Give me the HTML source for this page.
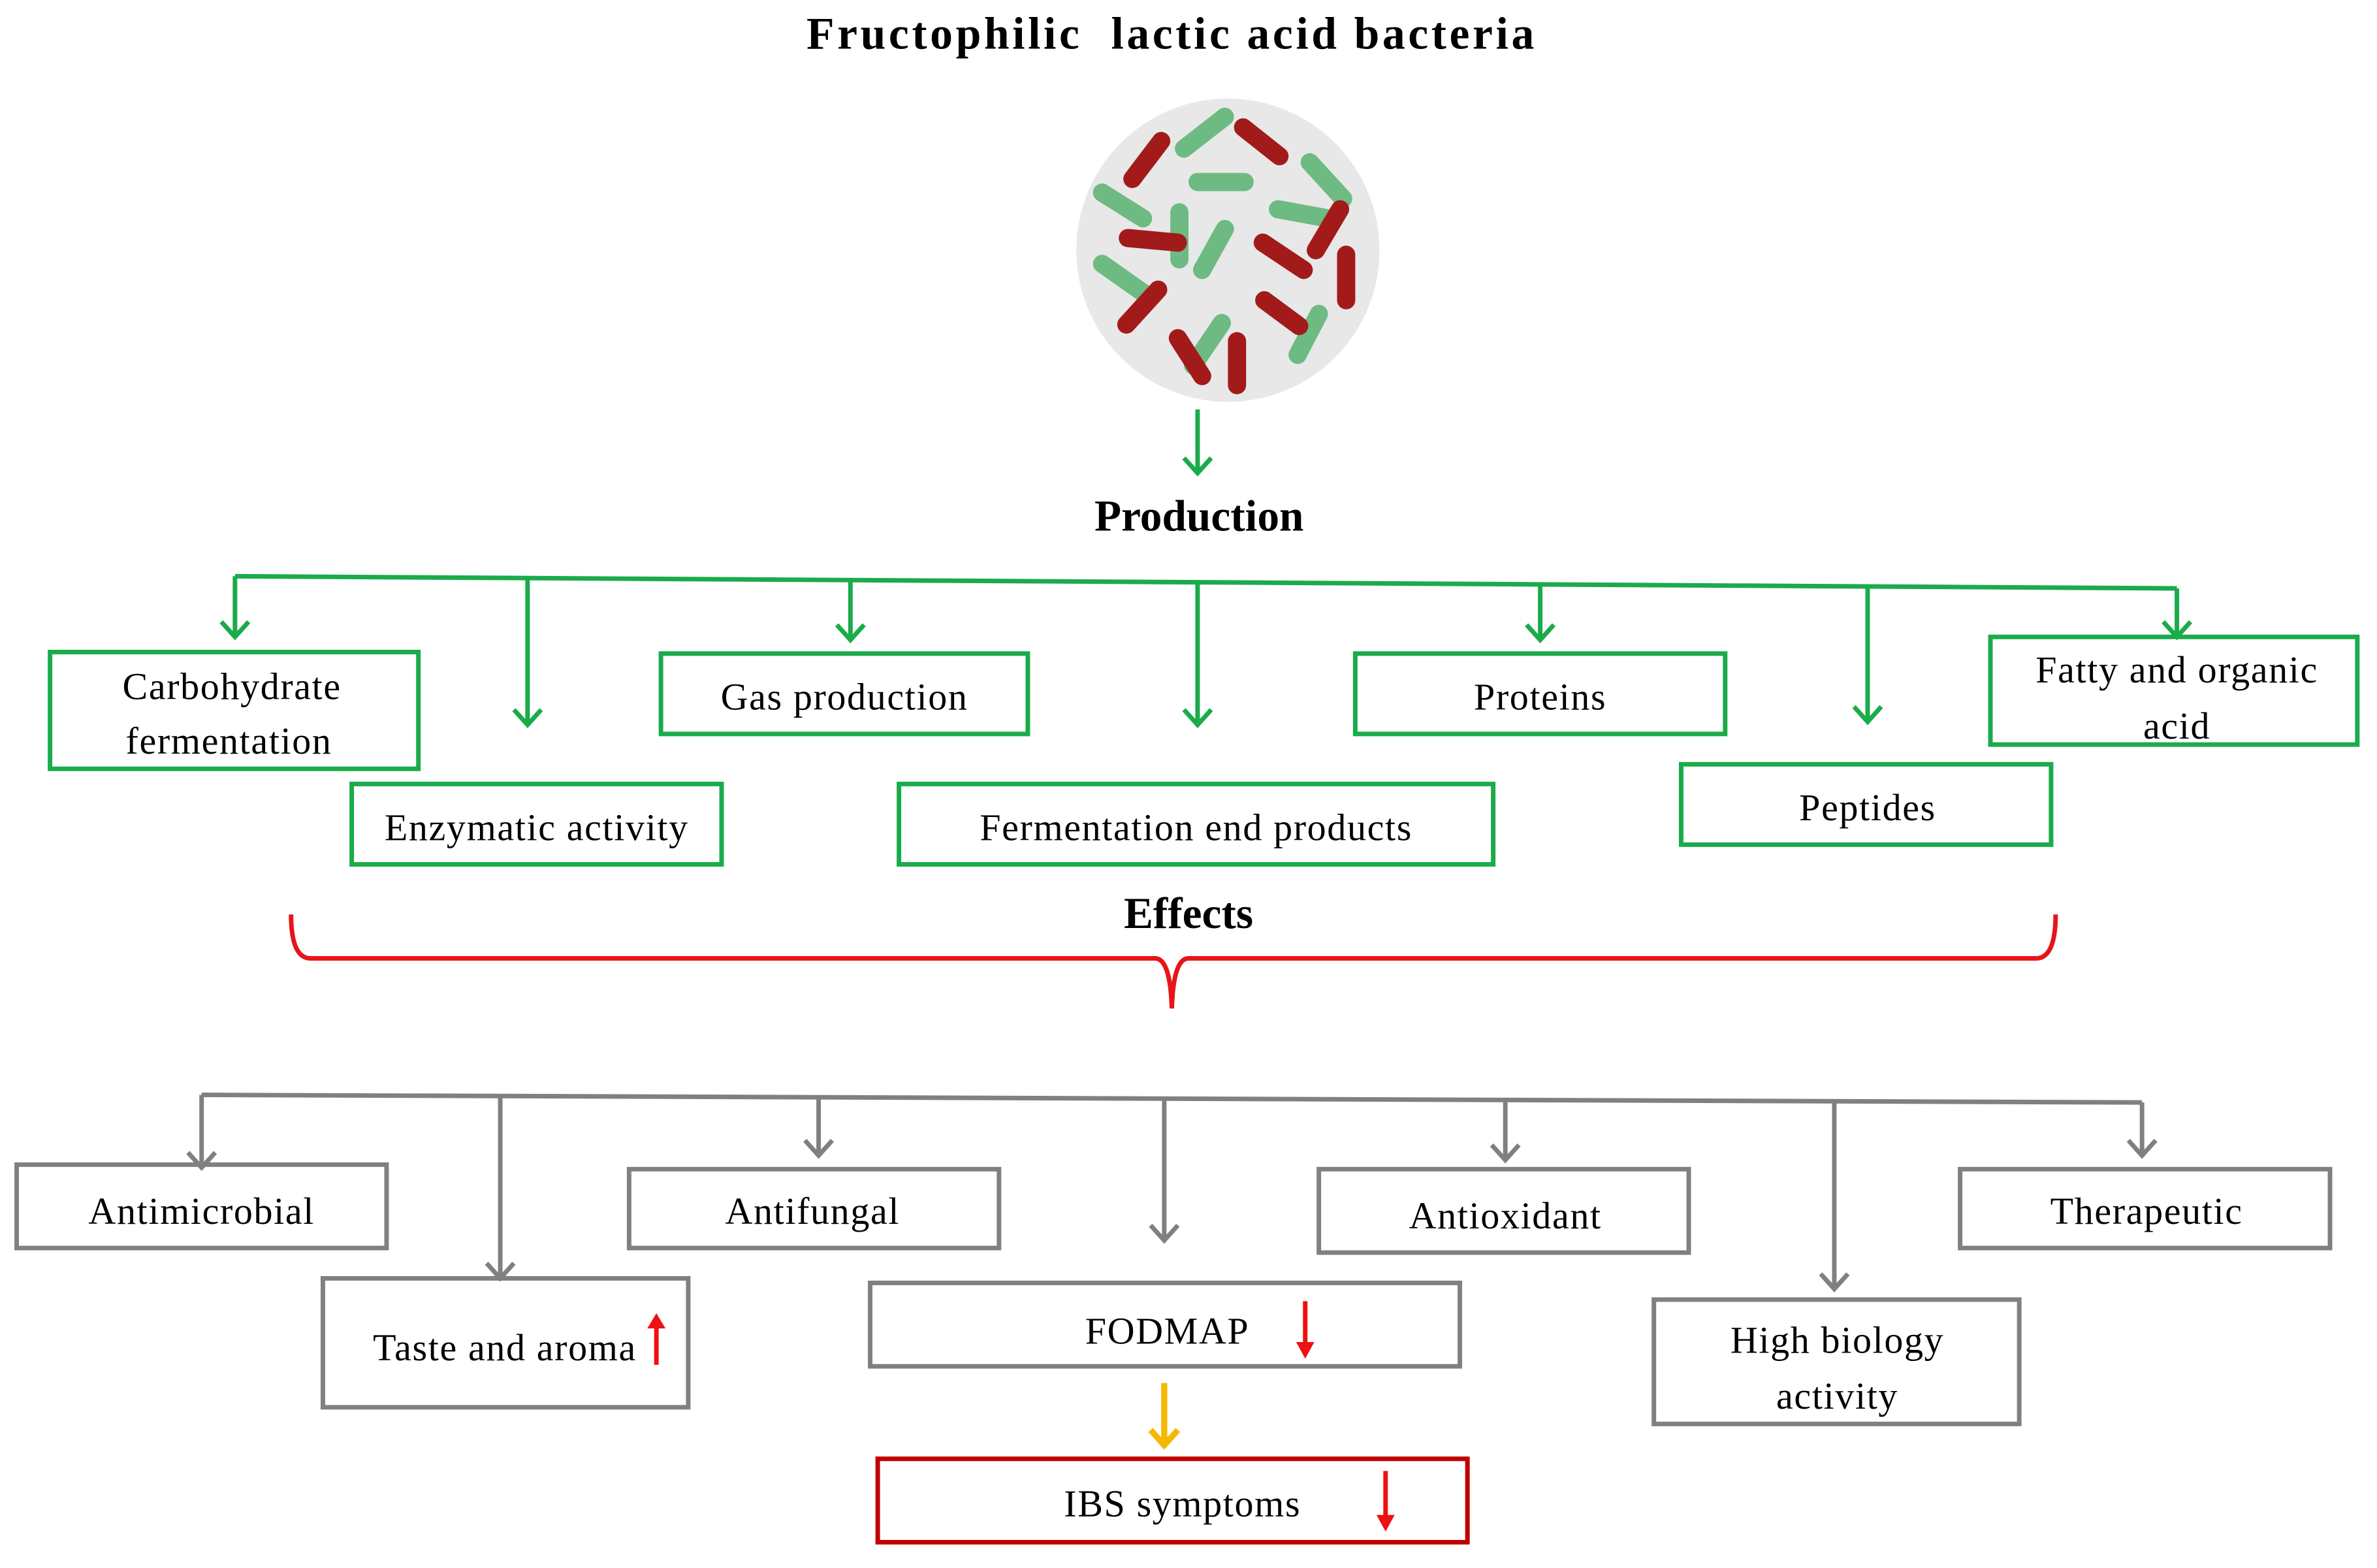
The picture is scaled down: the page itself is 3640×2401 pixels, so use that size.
<!DOCTYPE html>
<html><head><meta charset="utf-8"><style>html,body{margin:0;padding:0;background:#fff}svg{display:block}</style></head>
<body>
<svg width="3640" height="2401" viewBox="0 0 1568 1034" preserveAspectRatio="none" xmlns="http://www.w3.org/2000/svg" font-family="'Liberation Serif', serif">
<rect width="1568" height="1034" fill="#fff"/>
<text x="772" y="32" font-size="30" font-weight="bold" text-anchor="middle" style="white-space:pre" textLength="480">Fructophilic  lactic acid bacteria</text>
<circle cx="810" cy="165" r="100" fill="#e8e8e8"/>
<g stroke-linecap="round" stroke-width="12">
<g stroke="#6dbb82">
<line x1="781" y1="98" x2="808" y2="77"/><line x1="790" y1="120" x2="821" y2="120"/><line x1="727" y1="127" x2="754" y2="144"/><line x1="864" y1="107" x2="886" y2="131"/><line x1="843" y1="138" x2="876" y2="144"/><line x1="778" y1="140" x2="778" y2="171"/><line x1="793" y1="178" x2="808" y2="151"/><line x1="727" y1="174" x2="754" y2="193"/><line x1="870" y1="207" x2="856" y2="234"/><line x1="806" y1="213" x2="787" y2="241"/>
</g>
<g stroke="#a31a1a">
<line x1="820" y1="84" x2="844" y2="103"/><line x1="747" y1="118" x2="766" y2="93"/><line x1="884" y1="138" x2="868" y2="165"/><line x1="744" y1="157" x2="777" y2="160"/><line x1="833" y1="160" x2="860" y2="178"/><line x1="888" y1="168" x2="888" y2="198"/><line x1="764" y1="191" x2="743" y2="214"/><line x1="834" y1="198" x2="857" y2="215"/><line x1="777" y1="223" x2="793" y2="248"/><line x1="816" y1="225" x2="816" y2="254"/>
</g>
</g>
<g stroke="#1aab4b" stroke-width="3" fill="none">
<path d="M790,270 V312 M781,302 L790,312 L799,302"/>
<path d="M155,380 L1436,388"/>
<path d="M155,380 V420 M146,410 L155,420 L164,410"/>
<path d="M348,381 V478 M339,468 L348,478 L357,468"/>
<path d="M561,382 V422 M552,412 L561,422 L570,412"/>
<path d="M790,383 V478 M781,468 L790,478 L799,468"/>
<path d="M1016,385 V422 M1007,412 L1016,422 L1025,412"/>
<path d="M1232,386 V476 M1223,466 L1232,476 L1241,466"/>
<path d="M1436,388 V420 M1427,410 L1436,420 L1445,410"/>
<rect x="33" y="430" width="243" height="77"/>
<rect x="232" y="517" width="244" height="53"/>
<rect x="436" y="431" width="242" height="53"/>
<rect x="593" y="517" width="392" height="53"/>
<rect x="894" y="431" width="244" height="53"/>
<rect x="1109" y="504" width="244" height="53"/>
<rect x="1313" y="420" width="242" height="71"/>
</g>
<text x="791" y="350" font-size="29" font-weight="bold" text-anchor="middle">Production</text>
<g font-size="25" text-anchor="middle" letter-spacing="0.7">
<text x="153" y="461">Carbohydrate</text><text x="151" y="497">fermentation</text>
<text x="354" y="554">Enzymatic activity</text>
<text x="557" y="468">Gas production</text>
<text x="789" y="554">Fermentation end products</text>
<text x="1016" y="468">Proteins</text>
<text x="1232" y="541">Peptides</text>
<text x="1436" y="450">Fatty and organic</text><text x="1436" y="487">acid</text>
</g>
<text x="784" y="612" font-size="29" font-weight="bold" text-anchor="middle">Effects</text>
<path d="M192,603 Q192,632 205,632 L762,632 Q772,632 773,665 Q774,632 784,632 L1343,632 Q1356,632 1356,603" stroke="#e8141a" stroke-width="3" fill="none"/>
<g stroke="#808080" stroke-width="3" fill="none">
<path d="M133,722 L1413,727"/>
<path d="M133,722 V770 M124,760 L133,770 L142,760"/>
<path d="M330,723 V843 M321,833 L330,843 L339,833"/>
<path d="M540,723 V762 M531,752 L540,762 L549,752"/>
<path d="M768,724 V818 M759,808 L768,818 L777,808"/>
<path d="M993,725 V765 M984,755 L993,765 L1002,755"/>
<path d="M1210,726 V850 M1201,840 L1210,850 L1219,840"/>
<path d="M1413,727 V762 M1404,752 L1413,762 L1422,752"/>
<rect x="11" y="768" width="244" height="55"/>
<rect x="213" y="843" width="241" height="85"/>
<rect x="415" y="771" width="244" height="52"/>
<rect x="574" y="846" width="389" height="55"/>
<rect x="870" y="771" width="244" height="55"/>
<rect x="1091" y="857" width="241" height="82"/>
<rect x="1293" y="771" width="244" height="52"/>
</g>
<g font-size="25" text-anchor="middle" letter-spacing="0.7">
<text x="133" y="807">Antimicrobial</text>
<text x="333" y="897">Taste and aroma</text>
<text x="536" y="807">Antifungal</text>
<text x="770" y="886">FODMAP</text>
<text x="993" y="810">Antioxidant</text>
<text x="1212" y="892">High biology</text><text x="1212" y="929">activity</text>
<text x="1416" y="807">Therapeutic</text>
<text x="780" y="1000">IBS symptoms</text>
</g>
<g stroke="#ee1111" stroke-width="3" fill="#ee1111">
<path d="M433,900 V872"/><path d="M427,876 L433,866 L439,876 Z" stroke="none"/>
<path d="M861,858 V888"/><path d="M855,885 L861,896 L867,885 Z" stroke="none"/>
<path d="M914,970 V1002"/><path d="M908,999 L914,1010 L920,999 Z" stroke="none"/>
</g>
<path d="M768,912 V953 M759,943 L768,953 L777,943" stroke="#f5b800" stroke-width="4" fill="none"/>
<rect x="579" y="962" width="389" height="55" stroke="#c00000" stroke-width="3" fill="none"/>
</svg>
</body></html>
